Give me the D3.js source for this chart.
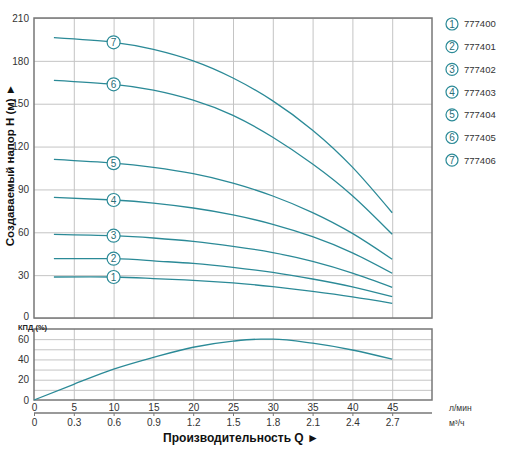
<!DOCTYPE html>
<html>
<head>
<meta charset="utf-8">
<script src="https://cdn.jsdelivr.net/npm/d3@7"></script>
<style>
  body { margin: 0; background: #fff; }
  text { font-family: "Liberation Sans", Arial, sans-serif; }
</style>
</head>
<body>
<svg></svg>
<script>
// pump head curves (H in m at Q in l/min)
const flowQ = [2.5, 10, 15, 20, 25, 30, 35, 40, 45];
const pumpIds = ["777400", "777401", "777402", "777403", "777404", "777405", "777406"];
const head1 = [28.7, 28.7, 27.6, 26.4, 24.6, 21.9, 18.6, 14.8, 10.3];
const head2 = [41.5, 41.5, 40.0, 38.2, 35.5, 31.9, 27.3, 21.8, 14.9];
const head3 = [58.6, 57.6, 56.0, 53.6, 50.2, 45.8, 39.6, 31.4, 21.5];
const head4 = [84.5, 82.6, 80.4, 77.0, 72.2, 65.6, 56.9, 45.6, 31.3];
const head5 = [111, 108.4, 105.4, 101, 94.4, 85.4, 73.8, 59.2, 41.1];
const head6 = [166.4, 163.6, 159.5, 152.5, 141.8, 126.5, 107.8, 85.6, 58.6];
const head7 = [196.2, 193, 188, 180, 168, 152, 131.5, 105.6, 73.7];
const heads = [head1, head2, head3, head4, head5, head6, head7];

// efficiency curve
const effQ = [0, 5, 10, 15, 20, 25, 28.5, 30, 35, 40, 45];
const effVal = [0, 15.5, 30.4, 42, 52, 58, 60, 60, 56, 49.3, 40.2];

const qTicks = [0, 5, 10, 15, 20, 25, 30, 35, 40, 45];
const m3Labels = ["0", "0.3", "0.6", "0.9", "1.2", "1.5", "1.8", "2.1", "2.4", "2.7"];
const hTicks = [0, 30, 60, 90, 120, 150, 180, 210];
const effTicks = [0, 20, 40, 60];

const width = 512;
const height = 465;
const teal = "#2b8a97";

let svg = d3.select("svg")
    .attr("width", width)
    .attr("height", height)

const x = d3.scaleLinear().domain([0, 50]).range([34, 432]);
const yH = d3.scaleLinear().domain([0, 210]).range([318, 18]);
const yE = d3.scaleLinear().domain([0, 70]).range([400, 329]);

// grid - top chart
svg.append("g")
    .attr("transform", "translate(0,318)")
    .call(d3.axisBottom(x).tickValues(d3.range(5, 50, 5)).tickSize(-300).tickFormat(""))
    .call(g => g.select(".domain").remove())
    .selectAll("line").attr("stroke", "#c4c4c4");

svg.append("g")
    .attr("transform", "translate(34,0)")
    .call(d3.axisLeft(yH).tickValues(hTicks).tickSize(-398).tickPadding(5))
    .call(g => g.select(".domain").remove())
    .call(g => g.selectAll("line").attr("stroke", "#c4c4c4"))
    .call(g => g.selectAll("text").attr("fill", "#333").style("font-size", "10px"))
    .call(g => g.selectAll("text").filter(d => d === 0).attr("dy", "0.1em"));

// grid - bottom chart
svg.append("g")
    .attr("transform", "translate(0,400)")
    .call(d3.axisBottom(x).tickValues(d3.range(5, 50, 5)).tickSize(-71).tickFormat(""))
    .call(g => g.select(".domain").remove())
    .selectAll("line").attr("stroke", "#c4c4c4");

svg.append("g")
    .attr("transform", "translate(34,0)")
    .call(d3.axisLeft(yE).tickValues(d3.range(10, 70, 10)).tickSize(-398).tickFormat(""))
    .call(g => g.select(".domain").remove())
    .selectAll("line").attr("stroke", "#c4c4c4");

svg.append("g")
    .attr("transform", "translate(34,0)")
    .call(d3.axisLeft(yE).tickValues(effTicks).tickSize(0).tickPadding(5))
    .call(g => g.select(".domain").remove())
    .call(g => g.selectAll("text").attr("fill", "#333").style("font-size", "10px"));

// frames
svg.append("rect")
    .attr("x", 34).attr("y", 18).attr("width", 398).attr("height", 300)
    .attr("fill", "none").attr("stroke", "#777").attr("stroke-width", 1.5);
svg.append("rect")
    .attr("x", 34).attr("y", 329).attr("width", 398).attr("height", 71)
    .attr("fill", "none").attr("stroke", "#777").attr("stroke-width", 1.5);

// l/min labels
svg.append("g")
    .attr("transform", "translate(0,400)")
    .call(d3.axisBottom(x).tickValues(qTicks).tickSize(0).tickPadding(4))
    .call(g => g.select(".domain").remove())
    .call(g => g.selectAll("text").attr("fill", "#333").style("font-size", "10px"));

// m3/h axis
svg.append("g")
    .attr("transform", "translate(0,413)")
    .call(d3.axisBottom(x).tickValues(qTicks).tickSize(3).tickPadding(3).tickFormat((d, i) => m3Labels[i]))
    .call(g => g.select(".domain").attr("stroke", "#777").attr("stroke-width", 1.5).attr("d", "M34,0H432"))
    .call(g => g.selectAll("line").attr("stroke", "#777"))
    .call(g => g.selectAll("text").attr("fill", "#333").style("font-size", "10px"));

// curves
const line = d3.line()
    .x((d, i) => x(flowQ[i]))
    .y(d => yH(d))
    .curve(d3.curveNatural);

svg.append("g").selectAll("path")
    .data(heads)
    .join("path")
    .attr("d", line)
    .attr("fill", "none")
    .attr("stroke", teal)
    .attr("stroke-width", 1.3);

const effLine = d3.line()
    .x((d, i) => x(effQ[i]))
    .y(d => yE(d))
    .curve(d3.curveMonotoneX);

svg.append("path")
    .attr("d", effLine(effVal))
    .attr("fill", "none")
    .attr("stroke", teal)
    .attr("stroke-width", 1.3);

// markers at Q=10
const marks = svg.append("g").selectAll("g")
    .data(heads)
    .join("g")
    .attr("transform", d => `translate(${x(flowQ[1])},${yH(d[1])})`);
marks.append("circle").attr("r", 6.5).attr("fill", "#fff").attr("stroke", teal).attr("stroke-width", 1.2);
marks.append("text")
    .attr("text-anchor", "middle").attr("dy", "0.36em")
    .attr("fill", "#2a6e78").style("font-size", "10px")
    .text((d, i) => i + 1);

// legend
const leg = svg.append("g").selectAll("g")
    .data(pumpIds)
    .join("g")
    .attr("transform", (d, i) => `translate(452,${24 + i * 22.7})`);
leg.append("circle").attr("r", 6).attr("fill", "#fff").attr("stroke", teal).attr("stroke-width", 1.2);
leg.append("text")
    .attr("text-anchor", "middle").attr("dy", "0.36em")
    .attr("fill", "#2a6e78").style("font-size", "10px")
    .text((d, i) => i + 1);
leg.append("text")
    .attr("x", 12).attr("dy", "0.36em")
    .attr("fill", "#333").style("font-size", "9.5px")
    .text(d => d);

// titles
svg.append("text")
    .attr("transform", "translate(14,165) rotate(-90)")
    .attr("text-anchor", "middle")
    .attr("fill", "#111").style("font-size", "11.5px").style("font-weight", "bold")
    .text("Создаваемый напор H (м) ►");

svg.append("text")
    .attr("x", 18).attr("y", 330)
    .attr("fill", "#222").style("font-size", "7.5px").style("font-weight", "bold")
    .text("КПД (%)");

svg.append("text")
    .attr("x", 241).attr("y", 442)
    .attr("text-anchor", "middle")
    .attr("fill", "#111").style("font-size", "12px").style("font-weight", "bold")
    .text("Производительность Q ►");

svg.append("text")
    .attr("x", 449).attr("y", 411)
    .attr("fill", "#333").style("font-size", "8.5px")
    .text("л/мин");
svg.append("text")
    .attr("x", 449).attr("y", 426)
    .attr("fill", "#333").style("font-size", "8.5px")
    .text("м³/ч");
</script>
</body>
</html>
